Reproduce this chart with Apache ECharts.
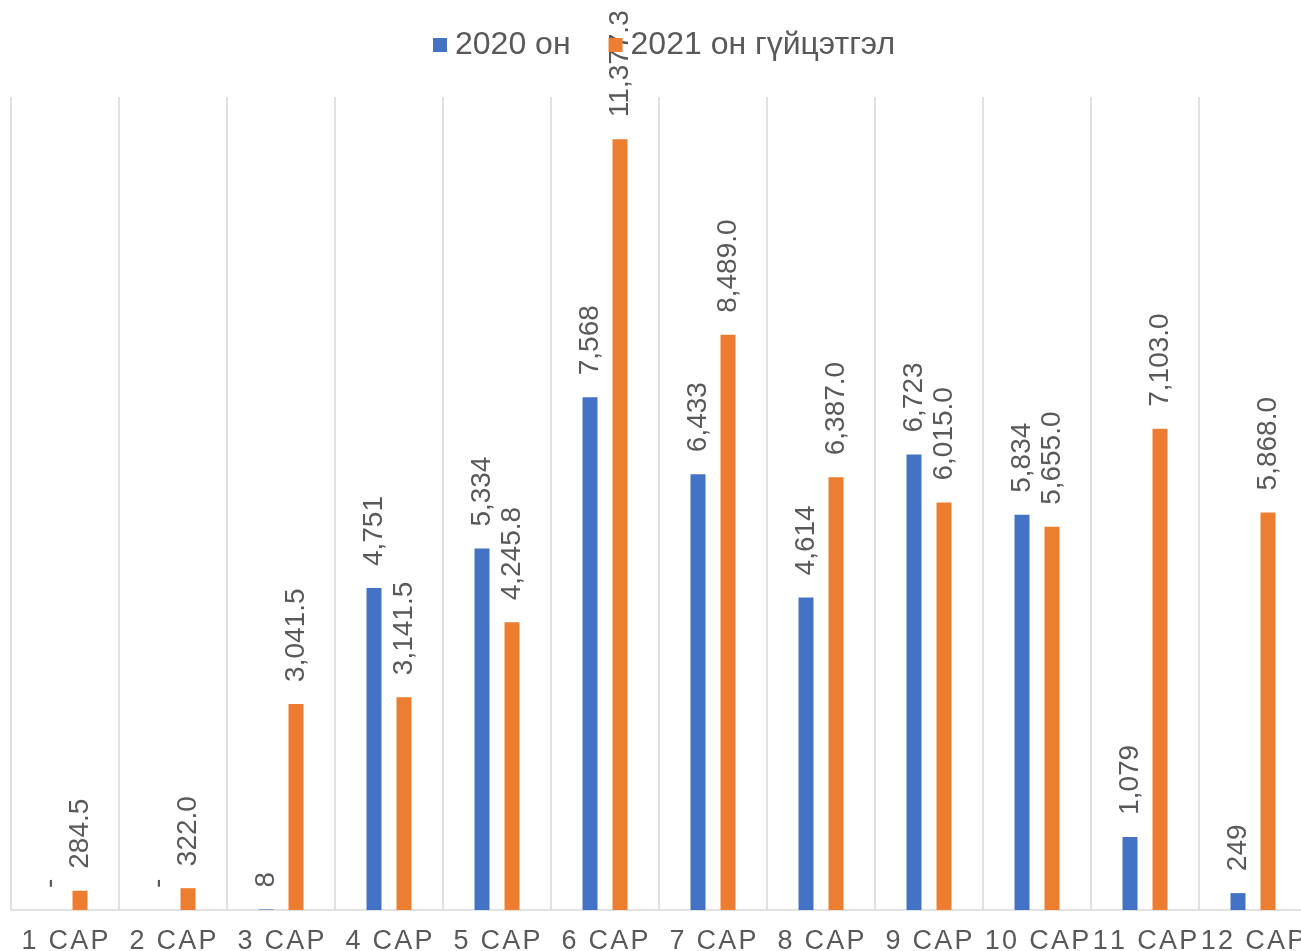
<!DOCTYPE html>
<html>
<head>
<meta charset="utf-8">
<script src="https://cdn.jsdelivr.net/npm/echarts@6/dist/echarts.min.js"></script>
<style>
  html, body { margin: 0; padding: 0; background: #fff; }
  #chart { width: 1301px; height: 951px; }
</style>
</head>
<body>
<div id="chart"></div>
<script>
var months = ['1 САР', '2 САР', '3 САР', '4 САР', '5 САР', '6 САР',
              '7 САР', '8 САР', '9 САР', '10 САР', '11 САР', '12 САР'];
var seriesNames = ['2020 он', '2021 он гүйцэтгэл'];
var values2020 = [0, 0, 8, 4751, 5334, 7568, 6433, 4614, 6723, 5834, 1079, 249];
var values2021 = [284.5, 322.0, 3041.5, 3141.5, 4245.8, 11377.3, 8489.0, 6387.0, 6015.0, 5655.0, 7103.0, 5868.0];

function fmt(v, dec) {
    if (v === 0) return '-';
    return v.toLocaleString('en-US', {minimumFractionDigits: dec, maximumFractionDigits: dec});
}

var labelBase = {
    show: true,
    position: 'top',
    rotate: 90,
    align: 'left',
    verticalAlign: 'middle',
    distance: 22,
    color: '#595959',
    fontSize: 28,
    fontFamily: 'Liberation Sans'
};

option = {
    animation: false,
    textStyle: { fontFamily: 'Liberation Sans' },
    legend: {
        top: 24,
        left: 428,
        itemWidth: 14,
        itemHeight: 14,
        itemGap: 38,
        z: 10,
        icon: 'rect',
        textStyle: {
            fontSize: 32,
            color: '#595959',
            padding: [0, 0, 0, 3]
        },
        data: seriesNames
    },
    grid: {
        left: 11,
        width: 1296,
        top: 97,
        bottom: 41,
        outerBoundsMode: 'none'
    },
    xAxis: {
        type: 'category',
        data: months,
        axisTick: { show: false },
        axisLine: { lineStyle: { color: '#d9d9d9', width: 1.5 } },
        splitLine: { show: true, interval: 0, lineStyle: { color: '#d9d9d9', width: 1.5 } },
        axisLabel: {
            interval: 0,
            margin: 18,
            fontSize: 27,
            color: '#595959',
            formatter: function (v) { return v.split('').join('\u200A'); }
        }
    },
    yAxis: {
        type: 'value',
        min: 0,
        max: 12000,
        show: false,
        splitLine: { show: false }
    },
    series: [
        {
            name: seriesNames[0],
            type: 'bar',
            barWidth: 15,
            barGap: '100%',
            itemStyle: { color: '#4472c4' },
            label: Object.assign({}, labelBase, {
                formatter: function (p) { return fmt(p.value, 0); }
            }),
            data: values2020
        },
        {
            name: seriesNames[1],
            type: 'bar',
            barWidth: 15,
            itemStyle: { color: '#ed7d31' },
            label: Object.assign({}, labelBase, {
                formatter: function (p) { return fmt(p.value, 1); }
            }),
            data: values2021
        }
    ]
};

var myChart = echarts.init(document.getElementById('chart'));
myChart.setOption(option);
</script>
</body>
</html>
